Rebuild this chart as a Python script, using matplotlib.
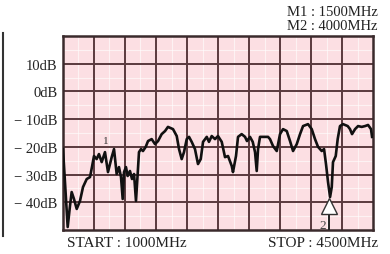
import matplotlib.pyplot as plt
from matplotlib.lines import Line2D

plt.rcParams['font.family'] = ['Liberation Serif', 'DejaVu Serif']

# trace
freq_mhz = [1000, 1053, 1079, 1098, 1124, 1155, 1192, 1226, 1268, 1305, 1327, 1350,
            1380, 1406, 1437, 1474, 1508, 1550, 1576, 1606, 1632, 1655, 1674, 1689,
            1711, 1730, 1756, 1779, 1802, 1824, 1843, 1858, 1881, 1903, 1934, 1960,
            2001, 2039, 2073, 2114, 2152, 2185, 2242, 2284, 2310, 2340, 2366, 2397,
            2423, 2453, 2490, 2524, 2555, 2581, 2623, 2648, 2679, 2716, 2750, 2792,
            2829, 2863, 2905, 2919, 2953, 2976, 3017, 3055, 3077, 3111, 3142, 3168,
            3187, 3202, 3224, 3258, 3315, 3337, 3371, 3413, 3450, 3484, 3526, 3563,
            3597, 3639, 3676, 3710, 3766, 3808, 3845, 3879, 3921, 3947, 3969, 3992,
            4015, 4034, 4048, 4079, 4101, 4127, 4161, 4214, 4240, 4263, 4297, 4331,
            4372, 4410, 4444, 4477, 4489]
level_db = [-20.8, -48.9, -41.3, -36.3, -38.8, -42.4, -39.5, -34.5, -31.6, -30.9, -27.3, -23.3,
            -24.4, -22.6, -25.5, -21.9, -29.1, -23.7, -20.8, -29.8, -27.3, -30.9, -38.8, -29.1,
            -27.3, -30.5, -28.7, -31.6, -29.8, -39.5, -29.8, -21.9, -20.8, -21.5, -20.0, -17.9,
            -17.2, -19.0, -17.9, -15.4, -14.3, -12.8, -13.6, -16.1, -20.8, -24.4, -21.9, -17.2,
            -16.4, -18.2, -20.8, -26.2, -24.4, -18.2, -16.4, -18.2, -16.1, -17.2, -16.1, -18.2,
            -23.7, -23.3, -26.9, -29.1, -23.3, -16.4, -15.4, -16.4, -17.9, -16.4, -18.2, -21.9,
            -28.7, -20.8, -16.4, -16.4, -16.4, -17.2, -19.7, -21.5, -15.4, -13.6, -14.3, -17.9,
            -21.5, -19.0, -15.4, -12.5, -11.8, -13.6, -17.2, -20.0, -21.5, -20.8, -26.2, -32.7,
            -38.1, -34.5, -25.5, -23.3, -17.2, -12.5, -11.8, -12.5, -13.6, -15.4, -13.6, -12.5,
            -12.8, -12.5, -12.1, -13.6, -16.4]

start_mhz = 1000
stop_mhz = 4500
m1_mhz = 1500
m2_mhz = 4000
ytick_vals = [10, 0, -10, -20, -30, -40]
ytick_labels = ['10dB', '0dB', '− 10dB', '− 20dB', '− 30dB', '− 40dB']

fig = plt.figure(figsize=(3.9, 2.55), dpi=100)
ax = fig.add_axes([0.1615, 0.094, 0.795, 0.761])
ax.set_facecolor('#fcdfe3')
ax.set_xlim(start_mhz, stop_mhz)
ax.set_ylim(-50, 20)

# grid: 10 x 7 divisions, faint half-division lines
div = (stop_mhz - start_mhz) / 10
for i in range(1, 20):
    x = start_mhz + i * div / 2
    if i % 2:
        ax.axvline(x, color='white', lw=0.8, alpha=0.6, zorder=1)
    else:
        ax.axvline(x, color='#5a3a3e', lw=1.4, zorder=2)
for i in range(1, 14):
    y = -50 + i * 5
    if i % 2:
        ax.axhline(y, color='white', lw=0.8, alpha=0.6, zorder=1)
    else:
        ax.axhline(y, color='#5a3a3e', lw=1.4, zorder=2)

ax.plot(freq_mhz, level_db, color='#111111', lw=1.9, zorder=3)

# marker 1
ax.text(m1_mhz - 20, -19.5, '1', fontsize=8, color='#333333', ha='center', va='bottom', zorder=4)
# marker 2: open triangle with a stem
ax.plot([m2_mhz, m2_mhz], [-50, -44], color='#222222', lw=1.4, zorder=4)
ax.plot([m2_mhz], [-41.5], marker='^', ms=11, mfc='white', mec='#333333', mew=1.0, zorder=5)
ax.text(m2_mhz - 70, -48.3, '2', fontsize=9.5, color='#444444', ha='center', va='center', zorder=5)

ax.set_xticks([])
ax.set_yticks(ytick_vals)
ax.set_yticklabels(ytick_labels, fontsize=10.5)
ax.tick_params(axis='y', length=0, pad=4, colors='#222222')
for s in ax.spines.values():
    s.set_color('#3a2a2c')
    s.set_linewidth(1.8)

fig.text(0.969, 0.952, 'M1 : 1500MHz', fontsize=10.5, ha='right', va='center', color='#222222')
fig.text(0.969, 0.897, 'M2 : 4000MHz', fontsize=10.5, ha='right', va='center', color='#222222')
fig.text(0.172, 0.045, 'START : 1000MHz', fontsize=11, ha='left', va='center', color='#222222')
fig.text(0.969, 0.045, 'STOP : 4500MHz', fontsize=11, ha='right', va='center', color='#222222')

# edge of the neighbouring panel
fig.add_artist(Line2D([0.008, 0.008], [0.07, 0.865], color='#333333', lw=1.5))

fig.savefig('out.png', dpi=100)
